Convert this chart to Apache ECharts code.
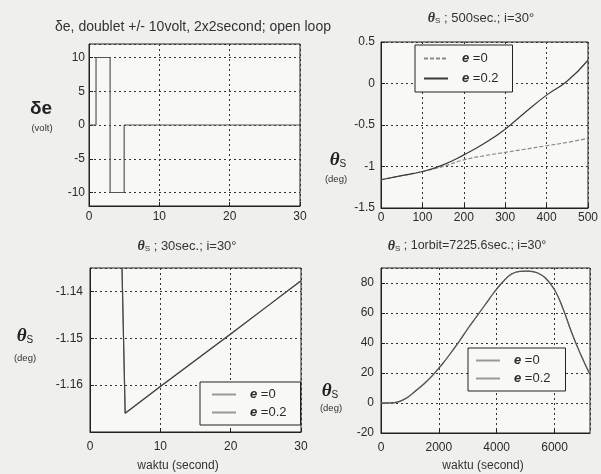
<!DOCTYPE html>
<html><head><meta charset="utf-8">
<script src="https://cdn.jsdelivr.net/npm/echarts@6/dist/echarts.min.js"></script>
<style>html,body{margin:0;padding:0;background:#efefed}#c{width:601px;height:474px}</style>
</head><body><div id="c"></div>
<script>
// ---- Data ----
// Plot 1: elevator doublet input
const t1 = [0, 1, 1, 3, 3, 5, 5, 30];
const de1 = [0, 0, 10, 10, -10, -10, 0, 0];
// Plot 2: theta_s over 500 s
const t2 = [0, 50, 100, 150, 200, 250, 300, 350, 400, 450, 500];
const th2_e0 = [-1.16, -1.11, -1.06, -1.0, -0.92, -0.87, -0.83, -0.79, -0.75, -0.71, -0.66];
const th2_e02 = [-1.16, -1.11, -1.06, -0.98, -0.86, -0.72, -0.55, -0.34, -0.14, 0.03, 0.28];
// Plot 3: theta_s over 30 s
const t3 = [4.55, 5, 10, 15, 20, 25, 30];
const th3_e0 = [-1.135, -1.166, -1.1603, -1.1547, -1.1491, -1.1434, -1.1377];
const th3_e02 = [-1.135, -1.166, -1.1603, -1.1547, -1.1491, -1.1434, -1.1377];
// Plot 4: theta_s over one orbit
const t4 = [0, 300, 600, 900, 1200, 1500, 1800, 2100, 2400, 2700, 3000, 3300, 3600, 3900, 4200, 4500, 4800, 5100, 5400, 5700, 6000, 6300, 6600, 6900, 7225.6];
const th4_e0 = [0, 0.1, 0.8, 3.5, 8.2, 13, 18.8, 25.5, 33, 41, 49.5, 57.5, 65.5, 73.5, 80.5, 85.8, 87.7, 87.9, 86.8, 83, 75.5, 62.5, 46.5, 32.5, 19];
const th4_e02 = [0, 0.1, 0.8, 3.5, 8.2, 13, 18.8, 25.5, 33, 41, 49.5, 57.5, 65.5, 73.5, 80.5, 85.8, 87.7, 87.9, 86.8, 83, 75.5, 62.5, 46.5, 32.5, 19];
// Texts
const titles = [
  'δe, doublet +/- 10volt, 2x2second; open loop',
  '{t|θ}{s|S} ; 500sec.; i=30°',
  '{t|θ}{s|S} ; 30sec.; i=30°',
  '{t|θ}{s|S} ; 1orbit=7225.6sec.; i=30°'
];
const legendNames = ['e=0', 'e=0.2'];
const xName = 'waktu (second)';

const FONT = 'Liberation Sans, Arial, sans-serif';
const zip = (a, b) => a.map((v, i) => [v, b[i]]);

function axis(gi, o) {
  return {
    type: 'value', gridIndex: gi, min: o.min, max: o.max, interval: o.interval, splitNumber: o.splitNumber,
    axisLine: {show: true, onZero: false, lineStyle: {color: '#222', width: 1}},
    axisTick: {show: true, inside: true, length: 4, lineStyle: {color: '#222'}},
    axisLabel: {color: '#2a2a2a', fontSize: 12, fontFamily: FONT, margin: o.margin,
      formatter: v => String(Math.round(v * 1000) / 1000),
      showMinLabel: o.showMin !== false, showMaxLabel: o.showMax !== false},
    splitLine: {show: true, lineStyle: {color: '#333', type: [2, 3], width: 1}}
  };
}

const grids = [
  {left: 89, top: 44, width: 211, height: 162},
  {left: 381, top: 42, width: 209, height: 166},
  {left: 90, top: 268, width: 211, height: 164},
  {left: 381, top: 268, width: 209, height: 165}
].map(g => Object.assign(g, {show: true, backgroundColor: '#f8f8f6', borderColor: '#222', borderWidth: 1}));

const xAxes = [
  axis(0, {min: 0, max: 30, interval: 10, margin: 5}),
  axis(1, {min: 0, max: 500, interval: 100, margin: 4}),
  axis(2, {min: 0, max: 30, interval: 10, margin: 9}),
  axis(3, {min: 0, max: 7225.6, interval: 2000, margin: 9, showMax: false})
];
const yAxes = [
  axis(0, {min: -12, max: 12, splitNumber: 5, margin: 4, showMin: false, showMax: false}),
  axis(1, {min: -1.5, max: 0.5, interval: 0.5, margin: 6}),
  axis(2, {min: -1.17, max: -1.135, interval: 0.01, margin: 7, showMin: false, showMax: false}),
  axis(3, {min: -20, max: 90, interval: 20, margin: 7, showMax: false})
];

function line(name, gi, xs, ys, color, type, smooth) {
  return {type: 'line', name: name, xAxisIndex: gi, yAxisIndex: gi, data: zip(xs, ys),
    symbol: 'none', showSymbol: false, smooth: smooth || false, clip: true, animation: false,
    lineStyle: {color: color, width: 1.2, type: type || 'solid'}, itemStyle: {color: color}};
}

const series = [
  line('p1 de', 0, t1, de1, '#555'),
  line('p2 ' + legendNames[0], 1, t2, th2_e0, '#8a8a8a', [4, 2], true),
  line('p2 ' + legendNames[1], 1, t2, th2_e02, '#3a3a3a', 'solid', true),
  line('p3 ' + legendNames[0], 2, t3, th3_e0, '#888'),
  line('p3 ' + legendNames[1], 2, t3, th3_e02, '#444'),
  line('p4 ' + legendNames[0], 3, t4, th4_e0, '#888', 'solid', true),
  line('p4 ' + legendNames[1], 3, t4, th4_e02, '#555', 'solid', true)
];

function legend(p, left, top, pad, gap, cols) {
  return {
    orient: 'vertical', left: left, top: top, padding: pad, itemGap: gap, itemWidth: 24, itemHeight: 12,
    borderColor: '#222', borderWidth: 1, backgroundColor: '#f8f8f6', selectedMode: false,
    itemStyle: {opacity: 0},
    data: legendNames.map((n, i) => ({name: p + ' ' + n, itemStyle: {opacity: 0},
      lineStyle: cols ? {color: cols[i], type: 'solid'} : undefined})),
    formatter: n => '{i|e}{n| ' + n.split(' ')[1].slice(1) + '}',
    textStyle: {fontFamily: FONT, fontSize: 13, color: '#2a2a2a',
      rich: {i: {fontStyle: 'italic', fontWeight: 'bold', fontSize: 13, padding: [0, 0, 0, 9], fontFamily: FONT, color: '#2a2a2a'},
             n: {fontSize: 13, fontFamily: FONT, color: '#2a2a2a'}}}
  };
}

const legends = [
  legend('p2', 415, 45, [7, 14, 7, 8], 7),
  legend('p3', 200, 382, [6, 14, 6, 11], 5, ['#999', '#999']),
  legend('p4', 468, 348, [6, 15, 6, 7], 5, ['#999', '#999'])
];

const thetaRich = {
  t: {fontFamily: 'Liberation Serif, serif', fontStyle: 'italic', fontWeight: 'bold', fontSize: 19, color: '#222'},
  s: {fontFamily: FONT, fontSize: 10, color: '#222', verticalAlign: 'bottom', padding: [6, 0, 0, 0]}
};
const thetaRichSmall = {
  t: {fontFamily: 'Liberation Serif, serif', fontStyle: 'italic', fontWeight: 'bold', fontSize: 14, color: '#333'},
  s: {fontFamily: FONT, fontSize: 8, color: '#333', verticalAlign: 'bottom', padding: [4, 0, 0, 0]}
};
function txt(text, x, y, size, rich, extra) {
  return {text: text, left: x, top: y, textAlign: 'center', textVerticalAlign: 'middle', padding: 0,
    textStyle: Object.assign({fontFamily: FONT, fontSize: size, fontWeight: 'normal', color: '#333', rich: rich}, extra || {})};
}

const titleList = [
  txt(titles[0], 193, 27, 14, undefined),
  txt(titles[1], 481, 18, 13, thetaRichSmall),
  txt(titles[2], 187, 246, 13, thetaRichSmall),
  txt(titles[3], 467, 246, 12.5, thetaRichSmall),
  // y-axis names
  txt('δe', 41, 109, 19, undefined, {fontWeight: 'bold', color: '#222'}),
  txt('(volt)', 42, 128, 9.5, undefined),
  txt('{t|θ}{s|S}', 338, 160, 19, thetaRich),
  txt('(deg)', 336, 179, 9.5, undefined),
  txt('{t|θ}{s|S}', 25, 336, 19, thetaRich),
  txt('(deg)', 25, 358, 9.5, undefined),
  txt('{t|θ}{s|S}', 330, 391, 19, thetaRich),
  txt('(deg)', 331, 408, 9.5, undefined),
  // x-axis names
  txt(xName, 178, 466, 12, undefined),
  txt(xName, 483, 466, 12, undefined)
];

const chart = echarts.init(document.getElementById('c'), null, {renderer: 'canvas'});
chart.setOption({
  backgroundColor: '#efefed',
  animation: false,
  title: titleList,
  grid: grids,
  xAxis: xAxes,
  yAxis: yAxes,
  legend: legends,
  series: series
});
</script>
</body></html>
